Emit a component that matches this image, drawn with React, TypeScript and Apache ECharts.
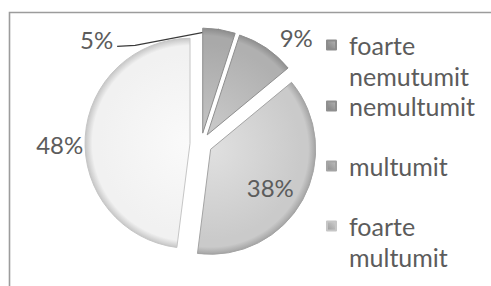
import React, { useEffect, useRef } from 'react';
import * as echarts from 'echarts';

const categories = ['foarte nemutumit', 'nemultumit', 'multumit', 'foarte multumit'];
const legendTexts = ['foarte\nnemutumit', 'nemultumit', 'multumit', 'foarte\nmultumit'];
const values = [5, 9, 38, 48];

const FONT = 'Lato, "Open Sans", sans-serif';
const TEXT_COLOR = '#5c5c5c';
const CX = 201;
const CY = 144;
const R = 105;
const EXPLODE = 11;

const sliceStops = [
  ['#c4c4c4', '#a9a9a9', '#8c8c8c'],
  ['#cacaca', '#b0b0b0', '#8f8f8f'],
  ['#e0e0e0', '#cacaca', '#a4a4a4'],
  ['#fafafa', '#f1f1f1', '#c6c6c6'],
];
const legendIconColors = [
  ['#b5b5b5', '#7d7d7d'],
  ['#b5b5b5', '#7d7d7d'],
  ['#c0c0c0', '#8a8a8a'],
  ['#d0d0d0', '#9a9a9a'],
];

// per-slice label placement tweaks (library layout options)
const labelOpts: any[] = [
  { position: 'outside' },
  { position: 'outside', formatter: '\n{c}%', lineHeight: 4 },
  { position: 'inside', padding: [0, 0, 0, 22], formatter: '\n{c}%', lineHeight: 22 },
  { position: 'outside', distanceToLabelLine: 2, formatter: '\n{c}%', lineHeight: 16 },
];
const labelLineOpts: any[] = [
  { show: true, length: -9.7, length2: -142.6 },
  { show: false, length: 15, length2: 0 },
  { show: false },
  { show: false, length: 0, length2: 0 },
];

function sliceColor(i: number) {
  const s = sliceStops[i];
  return new echarts.graphic.RadialGradient(CX, CY, R, [
    { offset: 0, color: s[0] },
    { offset: 0.86, color: s[1] },
    { offset: 0.93, color: s[1] },
    { offset: 1, color: s[2] },
  ], true);
}

export default function App() {
  const ref = useRef<HTMLDivElement>(null);
  useEffect(() => {
    if (!ref.current) return;
    const chart = echarts.init(ref.current, undefined, { renderer: 'svg' });
    const legendTops = [-1.5, 59.5, 119.5, 179.5];
    const legends = categories.map((name, i) => ({
      show: true,
      orient: 'vertical',
      left: 326,
      top: legendTops[i],
      padding: 0,
      itemWidth: 9,
      itemHeight: 9,
      selectedMode: false,
      formatter: () => '\n' + legendTexts[i] + (legendTexts[i].indexOf('\n') < 0 ? '\n' : ''),
      textStyle: {
        fontFamily: FONT,
        fontSize: 25,
        color: TEXT_COLOR,
        lineHeight: 31,
        padding: [0, 0, 0, 8],
      },
      data: [
        {
          name,
          icon: 'rect',
          itemStyle: {
            color: new echarts.graphic.LinearGradient(1, 0, 0, 1, [
              { offset: 0, color: legendIconColors[i][0] },
              { offset: 1, color: legendIconColors[i][1] },
            ]),
          },
        },
      ],
    }));

    const total = values.reduce((a, b) => a + b, 0);

    const option: any = {
      animation: false,
      backgroundColor: '#ffffff',
      legend: legends,
      graphic: [
        {
          type: 'polyline',
          shape: { points: [[9.5, 286], [9.5, 12.5], [491, 12.5]] },
          style: { stroke: '#9c9c9c', lineWidth: 1.6, fill: null },
          silent: true,
        },
      ],
      series: [
        {
          type: 'pie',
          center: [CX, CY],
          radius: [0, R],
          startAngle: 90,
          clockwise: true,
          selectedMode: 'multiple',
          selectedOffset: EXPLODE,
          avoidLabelOverlap: false,
          emphasis: { disabled: true },
          label: {
            show: true,
            formatter: '{c}%',
            fontFamily: FONT,
            fontSize: 24,
            color: TEXT_COLOR,
          },
          labelLine: {
            show: false,
            lineStyle: { color: '#3a3a3a', width: 1.2 },
          },
          labelLayout: (params: any) => {
            if (params.dataIndex !== 0) return {};
            // arc midpoint of the first slice (before the explode offset, which the library adds)
            const mid = (values[0] / total) * Math.PI;
            const p0 = [CX + R * Math.sin(mid), CY - R * Math.cos(mid)];
            return {
              labelLinePoints: [
                [p0[0], p0[1]],
                [p0[0] - 84, p0[1] + 16],
                [p0[0] - 102, p0[1] + 17],
              ],
            };
          },
          data: categories.map((name, i) => ({
            name,
            value: values[i],
            selected: true,
            label: labelOpts[i],
            labelLine: labelLineOpts[i],
            itemStyle: {
              color: sliceColor(i),
              borderColor: sliceStops[i][2],
              borderWidth: 1,
            },
          })),
        },
      ],
    };
    chart.setOption(option);
    return () => chart.dispose();
  }, []);
  return (
    <div
      ref={ref}
      style={{ position: 'absolute', left: 0, top: 0, width: 491, height: 286 }}
    />
  );
}
